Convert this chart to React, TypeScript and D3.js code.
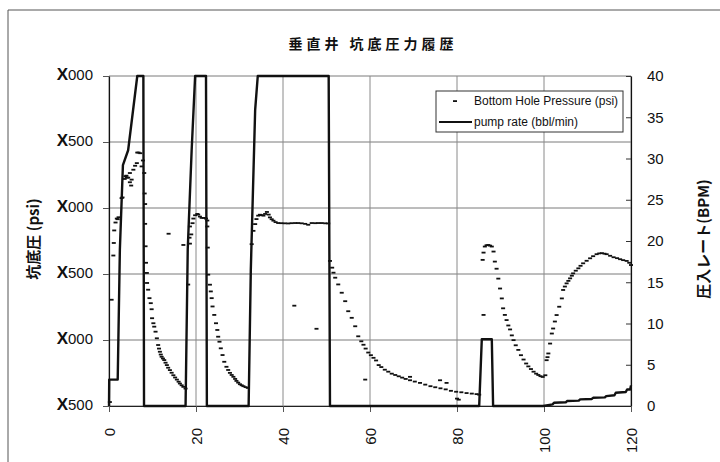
import React, { useEffect, useRef } from 'react'
import * as d3 from 'd3'

// axis ticks
const timeTicks = [0, 20, 40, 60, 80, 100, 120]
const pressureTicks = [500, 1000, 1500, 2000, 2500, 3000]
const pressureTickLabels = ['X500', 'X000', 'X500', 'X000', 'X500', 'X000']
const rateTicks = [0, 5, 10, 15, 20, 25, 30, 35, 40]

// pump rate (bbl/min), time in minutes
const pumpTime = [0, 0.05, 2.0, 2.5, 3.2, 4.4, 6.5, 7.9, 8.05, 17.6, 18.1, 19.0, 19.8, 22.3, 22.5,
  32.1, 32.6, 33.6, 34.2, 50.5, 50.8, 85.1, 85.7, 88.0, 88.3, 99.8, 102.0, 102.3, 105.0, 105.3,
  108.0, 108.3, 111.0, 111.3, 114.0, 114.3, 116.2, 116.5, 118.8, 119.1, 119.8, 120]
const pumpRate = [0, 3.2, 3.2, 19, 29.2, 31, 40, 40, 0, 0, 19, 31, 40, 40, 0,
  0, 16.5, 35.9, 40, 40, 0, 0, 8.1, 8.1, 0, 0, 0.2, 0.4, 0.45, 0.6,
  0.65, 0.8, 0.85, 1.0, 1.05, 1.2, 1.3, 1.6, 1.7, 2.0, 2.0, 2.5]

// bottom hole pressure (psi): [time, psi]
const bhpStage1: [number, number][] = [
  [0.2, 530], [0.6, 1305], [1.0, 1640], [1.1, 1735], [1.2, 1830], [1.5, 1890], [1.8, 1920], [2.0, 1915],
  [2.2, 1930], [2.9, 2075], [3.1, 2080], [3.6, 2220], [3.8, 2240], [4.0, 2245], [4.1, 2230], [4.4, 2230],
  [4.8, 2265], [4.8, 2195], [5.1, 2170], [5.2, 2215], [5.6, 2290], [6.0, 2320], [6.4, 2340], [6.5, 2420],
  [6.8, 2420], [7.2, 2415], [7.5, 2315], [7.8, 2360], [8.1, 2265], [8.2, 2110], [8.3, 2030], [8.3, 1880],
  [8.4, 1710],
]
const bhpFalloff1: [number, number][] = [
  [8.5, 1585], [8.7, 1508], [8.75, 1432], [9.0, 1381], [9.3, 1317], [9.6, 1279], [9.8, 1233], [9.9, 1165],
  [10.2, 1127], [10.4, 1101], [10.7, 1063], [11.0, 1013], [11.3, 962], [11.5, 935], [11.7, 911], [11.9, 890],
  [12.1, 873], [12.4, 860], [12.7, 848], [13.0, 828], [13.3, 810], [13.6, 790], [14.0, 772], [14.4, 752],
  [14.8, 733], [15.2, 716], [15.6, 700], [16.0, 684], [16.3, 670], [16.7, 657], [17.1, 645], [17.6, 632],
  [13.7, 1805], [17.1, 1720],
]
const bhpStage2: [number, number][] = [
  [18.2, 1420], [18.5, 1775], [18.6, 1730], [18.6, 1860], [18.9, 1800], [19.2, 1885], [19.4, 1920],
  [19.8, 1945], [20.3, 1955], [20.5, 1950], [20.9, 1935], [21.3, 1925], [21.8, 1925], [22.3, 1920],
  [22.6, 1905], [22.6, 1860], [22.7, 1700],
]
const bhpFalloff2: [number, number][] = [
  [22.8, 1495], [23.2, 1419], [23.4, 1368], [23.6, 1317], [23.8, 1254], [24.2, 1190], [24.6, 1127],
  [24.9, 1076], [25.1, 1025], [25.4, 987], [25.7, 937], [26.1, 886], [26.5, 835], [27.0, 797], [27.4, 773],
  [27.8, 751], [28.2, 735], [28.6, 721], [29.0, 705], [29.3, 690], [29.7, 677], [30.1, 665], [30.5, 657],
  [30.9, 650], [31.4, 643], [31.9, 637],
]
const bhpStage3: [number, number][] = [
  [32.8, 1726], [33.2, 1827], [33.6, 1878], [33.9, 1916], [34.3, 1942], [34.7, 1949], [35.1, 1946],
  [35.5, 1942], [35.9, 1955], [36.3, 1970], [36.7, 1950], [37.0, 1929], [37.4, 1915], [37.8, 1904],
  [38.3, 1893], [38.9, 1886], [39.6, 1885], [40.4, 1884], [41.2, 1883], [42.0, 1885], [42.8, 1886],
  [43.5, 1886], [44.3, 1884], [45.1, 1880], [45.8, 1873], [46.6, 1886], [47.4, 1885], [48.1, 1886],
  [48.9, 1886], [49.7, 1884], [50.4, 1883], [42.6, 1260], [47.7, 1085],
]
const bhpFalloff3: [number, number][] = [
  [50.8, 1599], [51.3, 1548], [51.6, 1510], [52.0, 1472], [52.7, 1421], [53.5, 1358], [54.3, 1294],
  [55.0, 1218], [55.8, 1168], [56.6, 1104], [57.3, 1028], [58.0, 990], [58.5, 964], [59.0, 935],
  [59.6, 905], [60.2, 885], [60.8, 865], [61.4, 845], [62.0, 810], [62.6, 795], [63.4, 775], [64.2, 760],
  [65.0, 745], [65.8, 735], [66.6, 725], [67.4, 715], [68.2, 705], [69.2, 695], [70.3, 685], [71.5, 675],
  [72.7, 662], [73.9, 650], [75.0, 642], [76.2, 634], [77.4, 626], [78.6, 615], [79.8, 608], [81.0, 604],
  [82.2, 598], [83.4, 594], [84.5, 590], [85.1, 586],
  [58.9, 700], [69.2, 721], [76.1, 695], [77.6, 675], [80.0, 556], [80.4, 548],
]
const bhpStage4: [number, number][] = [
  [85.9, 1607], [86.1, 1662], [86.1, 1190], [86.4, 1708], [86.8, 1718], [87.2, 1720], [87.6, 1715],
  [88.0, 1708], [88.4, 1670], [88.7, 1594],
]
const bhpFalloff4: [number, number][] = [
  [89.1, 1540], [89.5, 1465], [89.9, 1390], [90.3, 1315], [90.6, 1240], [91.0, 1190], [91.4, 1151],
  [91.8, 1110], [92.2, 1080], [92.6, 1035], [93.0, 999], [93.5, 960], [94.1, 925], [94.7, 885],
  [95.3, 852], [95.9, 822], [96.4, 800], [97.0, 780], [97.6, 760], [98.2, 745], [98.7, 735], [99.2, 726],
  [99.7, 720],
]
const bhpRecovery: [number, number][] = [
  [100.3, 733], [100.6, 847], [100.8, 870], [101.0, 898], [101.4, 973], [101.8, 1049], [102.1, 1087],
  [102.5, 1140], [102.9, 1189], [103.5, 1252], [104.1, 1315], [104.4, 1379], [104.8, 1405], [105.2, 1429],
  [105.6, 1448], [106.0, 1467], [106.4, 1487], [106.7, 1505], [107.3, 1525], [107.9, 1543], [108.4, 1562],
  [109.0, 1581], [109.8, 1600], [110.6, 1619], [111.3, 1635], [112.1, 1650], [112.7, 1656], [113.3, 1658],
  [113.9, 1654], [114.4, 1650], [115.2, 1638], [116.0, 1627], [116.8, 1620], [117.5, 1612], [118.2, 1605],
  [119.0, 1599], [119.6, 1585], [120.0, 1568],
]

const jp = '"Noto Sans CJK JP", sans-serif'
const latin = '"Liberation Sans", Arial, sans-serif'

export default function App() {
  const ref = useRef<SVGSVGElement>(null)

  useEffect(() => {
    const W = 720
    const H = 462
    const margin = { top: 76, right: 89, bottom: 56, left: 109 }
    const width = W - margin.left - margin.right
    const height = H - margin.top - margin.bottom

    const svg = d3.select(ref.current)
    svg.selectAll('*').remove()

    // frame of the scanned figure
    svg.append('path')
      .attr('d', 'M8,' + H + ' V10 H' + W)
      .attr('fill', 'none')
      .attr('stroke', '#555')
      .attr('stroke-width', 1)

    const x = d3.scaleLinear().domain([0, 120]).range([0, width])
    const yP = d3.scaleLinear().domain([500, 3000]).range([height, 0])
    const yR = d3.scaleLinear().domain([0, 40]).range([height, 0])

    const g = svg.append('g')
      .attr('transform', 'translate(' + margin.left + ',' + margin.top + ')')

    // grid
    g.selectAll('.hgrid')
      .data(pressureTicks)
      .enter()
      .append('line')
      .attr('x1', 0).attr('x2', width)
      .attr('y1', d => yP(d)).attr('y2', d => yP(d))
      .attr('stroke', '#7a7a7a')
      .attr('stroke-width', 1)
    g.selectAll('.vgrid')
      .data(timeTicks)
      .enter()
      .append('line')
      .attr('x1', d => x(d)).attr('x2', d => x(d))
      .attr('y1', 0).attr('y2', height)
      .attr('stroke', '#8a8a8a')
      .attr('stroke-width', 1)

    // left axis
    const left = g.append('g')
      .call(d3.axisLeft(yP).tickValues(pressureTicks)
        .tickFormat((d, i) => pressureTickLabels[i])
        .tickSizeInner(6).tickSizeOuter(0).tickPadding(10))
    left.select('.domain').attr('stroke', '#111').attr('stroke-width', 1.2)
    left.selectAll('line').attr('stroke', '#555')
    left.selectAll('text').each(function () {
      const t = d3.select(this)
      const s = t.text()
      t.text(null)
        .attr('font-family', latin)
        .attr('fill', '#111')
      t.append('tspan').attr('font-size', 17).attr('font-weight', 'bold').text(s.slice(0, 1))
      t.append('tspan').attr('font-size', 15).text(s.slice(1))
    })

    // right axis
    const right = g.append('g')
      .attr('transform', 'translate(' + width + ',0)')
      .call(d3.axisRight(yR).tickValues(rateTicks)
        .tickSizeInner(-5).tickSizeOuter(0).tickPadding(16))
    right.select('.domain').attr('stroke', '#111').attr('stroke-width', 1.2)
    right.selectAll('line').attr('stroke', '#333')
    right.selectAll('text')
      .attr('font-family', latin)
      .attr('font-size', 15)
      .attr('fill', '#111')

    // bottom axis
    const bottom = g.append('g')
      .attr('transform', 'translate(0,' + height + ')')
      .call(d3.axisBottom(x).tickValues(timeTicks)
        .tickFormat(d3.format('d')).tickSizeInner(6).tickSizeOuter(0))
    bottom.select('.domain').attr('stroke', '#222')
    bottom.selectAll('line').attr('stroke', '#555')
    bottom.selectAll('text')
      .attr('font-family', latin)
      .attr('font-size', 15)
      .attr('fill', '#111')
      .attr('transform', 'rotate(-90)')
      .attr('text-anchor', 'end')
      .attr('x', -22)
      .attr('y', 0)
      .attr('dy', '0.36em')

    // pump rate line
    const pump = pumpTime.map((t, i) => [t, pumpRate[i]] as [number, number])
    const line = d3.line<[number, number]>()
      .x(d => x(d[0]))
      .y(d => yR(d[1]))
    g.append('path')
      .datum(pump)
      .attr('d', line)
      .attr('fill', 'none')
      .attr('stroke', '#111')
      .attr('stroke-width', 2.4)
      .attr('stroke-linejoin', 'round')

    // bottom hole pressure markers
    const bhp = [
      ...bhpStage1, ...bhpFalloff1, ...bhpStage2, ...bhpFalloff2, ...bhpStage3,
      ...bhpFalloff3, ...bhpStage4, ...bhpFalloff4, ...bhpRecovery,
    ]
    g.selectAll('.bhp')
      .data(bhp)
      .enter()
      .append('rect')
      .attr('x', d => x(d[0]) - 2)
      .attr('y', d => yP(d[1]) - 0.9)
      .attr('width', 4)
      .attr('height', 1.8)
      .attr('fill', '#111')

    // legend
    const lg = svg.append('g').attr('transform', 'translate(436,91)')
    lg.append('rect')
      .attr('width', 187).attr('height', 41)
      .attr('fill', '#fff')
      .attr('stroke', '#333')
      .attr('stroke-width', 1)
    lg.append('rect')
      .attr('x', 17).attr('y', 9.2).attr('width', 4).attr('height', 1.8)
      .attr('fill', '#111')
    lg.append('text')
      .attr('x', 38).attr('y', 14)
      .attr('font-family', latin).attr('font-size', 12).attr('fill', '#111')
      .text('Bottom Hole Pressure (psi)')
    lg.append('line')
      .attr('x1', 3).attr('x2', 36).attr('y1', 31).attr('y2', 31)
      .attr('stroke', '#111').attr('stroke-width', 2)
    lg.append('text')
      .attr('x', 38).attr('y', 35)
      .attr('font-family', latin).attr('font-size', 12).attr('fill', '#111')
      .text('pump rate (bbl/min)')

    // title and axis titles
    svg.append('text')
      .attr('x', 373).attr('y', 49)
      .attr('text-anchor', 'middle')
      .attr('font-family', jp).attr('font-weight', 'bold').attr('font-size', 14)
      .attr('letter-spacing', 4)
      .attr('fill', '#111')
      .text('垂直井 坑底圧力履歴')
    svg.append('text')
      .attr('transform', 'translate(39,' + (margin.top + height / 2 - 2) + ') rotate(-90)')
      .attr('text-anchor', 'middle')
      .attr('font-family', jp).attr('font-weight', 'bold').attr('font-size', 15)
      .attr('fill', '#111')
      .text('坑底圧 (psi)')
    svg.append('text')
      .attr('transform', 'translate(709,' + (margin.top + height / 2 - 2) + ') rotate(-90)')
      .attr('text-anchor', 'middle')
      .attr('font-family', jp).attr('font-weight', 'bold').attr('font-size', 15)
      .attr('fill', '#111')
      .text('圧入レート(BPM)')
  }, [])

  return (
    <svg
      ref={ref}
      width={720}
      height={462}
      style={{ position: 'absolute', left: 0, top: 0, background: '#fff' }}
    />
  )
}
